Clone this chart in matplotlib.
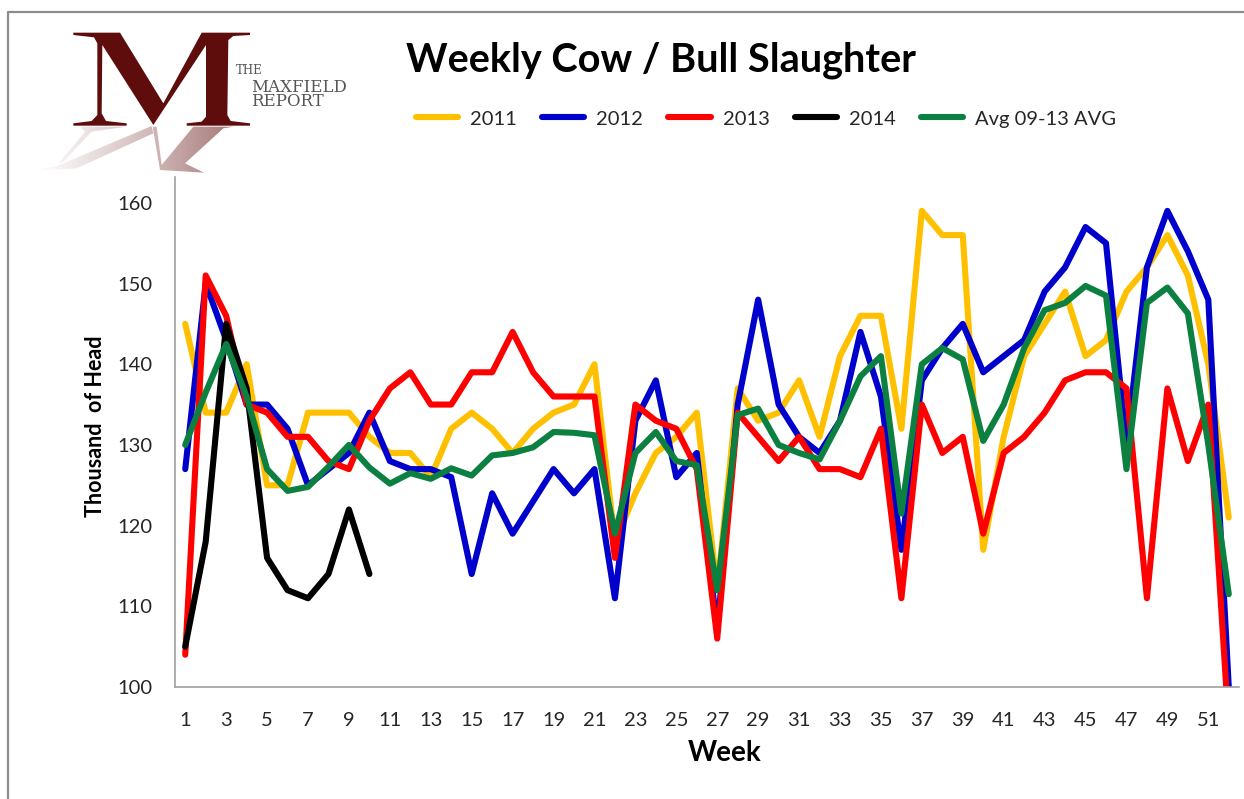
import numpy as np
import matplotlib
matplotlib.use("Agg")
import matplotlib.pyplot as plt
from matplotlib.patches import PathPatch, Polygon
from matplotlib.path import Path

plt.rcParams['font.family'] = ['Lato', 'DejaVu Sans']

weeks = list(range(1, 53))
y2011 = [145,134,134,140,125,125,134,134,134,131,129,129,126,132,134,132,129,132,134,135,140,118,124,129,131,134,112,137,133,134,138,131,141,146,146,132,159,156,156,117,131,141,145,149,141,143,149,152,156,151,140,121]
y2012 = [127,150,143,135,135,132,125,127,129,134,128,127,127,126,114,124,119,123,127,124,127,111,133,138,126,129,107,135,148,135,131,129,133,144,136,117,138,142,145,139,141,143,149,152,157,155,130,152,159,154,148,100]
y2013 = [104,151,146,135,134,131,131,128,127,133,137,139,135,135,139,139,144,139,136,136,136,116,135,133,132,127,106,134,131,128,131,127,127,126,132,111,135,129,131,119,129,131,134,138,139,139,137,111,137,128,135,95]
y2014 = [105,118,145,137,116,112,111,114,122,114]
yavg = [130,136.5,142.5,136,127,124.3,124.8,127.3,130,127.2,125.2,126.5,125.8,127.1,126.2,128.7,129,129.7,131.6,131.5,131.2,119,129,131.6,128,127.5,112,133.7,134.5,130,129,128.2,133,138.5,141,121.5,140,142,140.6,130.5,135,142,146.7,147.6,149.7,148.5,127,147.6,149.5,146.3,130,111.5]
series_names = ['2011', '2012', '2013', '2014', 'Avg 09-13 AVG']
series_values = [y2011, y2012, y2013, y2014, yavg]
series_colors = ['#FFC000', '#0000CC', '#FF0000', '#000000', '#0B8040']
yticks = [100, 110, 120, 130, 140, 150, 160]
xticks = list(range(1, 52, 2))
title = 'Weekly Cow / Bull Slaughter'
xlabel = 'Week'
ylabel = 'Thousand  of Head'

W, H = 1244, 799
fig = plt.figure(figsize=(W / 100, H / 100), dpi=100, facecolor='white')
L, R, T, B = 175, 1239, 177, 687
ax = fig.add_axes([L / W, 1 - B / H, (R - L) / W, (B - T) / H])
for name, vals, c in zip(series_names, series_values, series_colors):
    ax.plot(weeks[:len(vals)], vals, color=c, lw=4.4, label=name,
            solid_capstyle='round', solid_joinstyle='round')
ax.set_xlim(0.5, 52.5)
ax.set_ylim(100, 163.2)
ax.set_yticks(yticks)
ax.set_xticks(xticks)
ax.tick_params(length=0, labelsize=14.5, labelcolor='#262626')
ax.tick_params(axis='y', pad=16)
ax.tick_params(axis='x', pad=18)
for s in ('top', 'right'):
    ax.spines[s].set_visible(False)
for s in ('left', 'bottom'):
    ax.spines[s].set_color('#A0A0A0')
    ax.spines[s].set_linewidth(1.2)

fig.text(661 / W, 1 - 60 / H, title, fontsize=28.5, fontweight='bold', ha='center', va='center', color='black')
fig.text(725 / W, 1 - 753 / H, xlabel, fontsize=20, fontweight='bold', ha='center', va='center', color='black')
fig.text(95 / W, 1 - 426 / H, ylabel, fontsize=15.5, fontweight='bold', rotation=90, ha='center', va='center', color='black')

handles, labels = ax.get_legend_handles_labels()
fig.legend(handles, labels, ncol=5, loc='center', bbox_to_anchor=(766 / W, 1 - 119 / H),
           frameon=False, fontsize=14.5, handlelength=2.1, handletextpad=0.6, columnspacing=1.25,
           labelcolor='#262626')

# page overlay in pixel coordinates: frame and logo
ov = fig.add_axes([0, 0, 1, 1], facecolor='none', zorder=5)
ov.set_xlim(0, W)
ov.set_ylim(H, 0)
ov.axis('off')
ov.plot([8, 8, W], [H, 12, 12], color='#8C8C8C', lw=1.6)

def logo_xy(pts):
    return [(20 + x / 3, 20 + y / 3) for x, y in pts]

m_outline = [(160,38),(300,38),(430,250),(545,38),(690,38),(690,45),(640,48),(625,60),(622,285),(632,303),
             (690,310),(690,317),(500,317),(500,310),(545,305),(558,290),(558,75),(400,315),(247,75),(245,280),
             (258,303),(320,310),(320,317),(160,317),(160,310),(215,303),(232,285),(232,70),(222,52),(160,45)]
ov.add_patch(Polygon(logo_xy(m_outline), closed=True, fc='#5E0C0C', ec='none', zorder=2))

# fading reflection of the letter
shadow_parts = [
    [(395,318),(400,340),(170,445),(40,452),(110,438),(130,430)],
    [(180,320),(320,320),(215,335),(130,425),(115,432),(195,335)],
    [(398,320),(410,320),(425,435),(520,320),(640,320),(610,325),(495,430),(552,458),(420,450)],
]
verts, codes = [], []
for part in shadow_parts:
    xy = logo_xy(part)
    verts += xy + [xy[0]]
    codes += [Path.MOVETO] + [Path.LINETO] * (len(xy) - 1) + [Path.CLOSEPOLY]
shadow = Path(verts, codes)
rgba = np.zeros((2, 256, 4))
rgba[..., 0], rgba[..., 1], rgba[..., 2] = 0.45, 0.16, 0.16
rgba[..., 3] = np.linspace(0.0, 0.68, 256) ** 1.2
im = ov.imshow(rgba, extent=(30, 235, 175, 125), aspect='auto', interpolation='bilinear', zorder=1)
im.set_clip_path(PathPatch(shadow, transform=ov.transData))
ov.set_xlim(0, W)
ov.set_ylim(H, 0)

for txt, x, y, fs in [('THE', 236, 71, 8.5), ('MAXFIELD', 251, 87, 12), ('REPORT', 251, 102, 12)]:
    ov.text(x, y, txt, fontsize=fs, family='DejaVu Serif', color='#555555', va='center', ha='left')

fig.savefig('out.png', dpi=100)
